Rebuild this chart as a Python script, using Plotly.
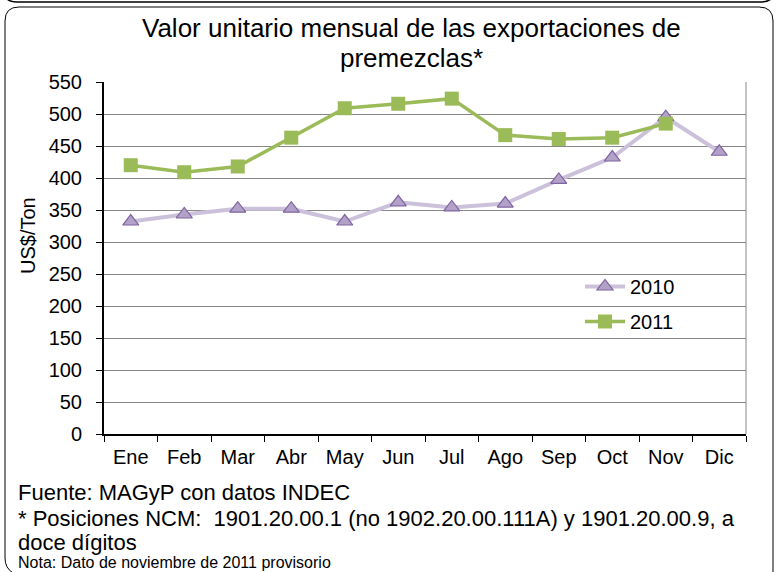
import plotly.graph_objects as go

months = ["Ene", "Feb", "Mar", "Abr", "May", "Jun", "Jul", "Ago", "Sep", "Oct", "Nov", "Dic"]
v2010 = [332, 343, 352, 352, 332, 362, 354, 360, 397, 432, 495, 441]
v2011 = [420, 409, 418, 463, 509, 516, 524, 467, 461, 463, 485, None]
yticks = list(range(0, 551, 50))

W, H = 778, 572
L, R, T, B = 104, 32, 82, 138
pw, ph = W - L - R, H - T - B

def px(x):
    return (x - L) / pw

def py(y):
    return (H - B - y) / ph

FONT = "Liberation Sans, Arial, sans-serif"

fig = go.Figure()
fig.add_trace(go.Scatter(
    x=months, y=v2010, name="2010", mode="lines+markers", legendgroup="a",
    line=dict(color="#CCC1DA", width=4),
    marker=dict(symbol="triangle-up", size=14, color="#B3A2C7",
                line=dict(color="#8064A2", width=1.2)),
))
fig.add_trace(go.Scatter(
    x=months, y=v2011, name="2011", mode="lines+markers", legendgroup="b",
    line=dict(color="#9BBB59", width=3.5),
    marker=dict(symbol="square", size=14, color="#9BBB59",
                line=dict(color="#9BBB59", width=0)),
))

# rounded frame
r = 14
x0, x1, y0, y1 = 5, 773, 7, 572
frame = (f"M {px(x0)},{py(558)} L {px(x0)},{py(y0 + r)} Q {px(x0)},{py(y0)} {px(x0 + r)},{py(y0)} "
         f"L {px(x1 - r)},{py(y0)} Q {px(x1)},{py(y0)} {px(x1)},{py(y0 + r)} L {px(x1)},{py(y1)}")
prev = (f"M {px(3)},{py(-12)} Q {px(3)},{py(2)} {px(17)},{py(2)} L {px(761)},{py(2)} "
        f"Q {px(775)},{py(2)} {px(775)},{py(-12)}")
bl = f"M {px(x0)},{py(558)} Q {px(x0)},{py(568)} {px(x0 + 8)},{py(573)}"
shapes = [
    dict(type="path", xref="paper", yref="paper", path=frame, line=dict(color="#000", width=1)),
    dict(type="path", xref="paper", yref="paper", path=prev, line=dict(color="#000", width=1.5)),
    dict(type="path", xref="paper", yref="paper", path=bl, line=dict(color="#000", width=1)),
    dict(type="line", xref="paper", yref="paper", x0=1, x1=1, y0=0, y1=1,
         line=dict(color="#888", width=1)),
]

fig.update_layout(
    width=W, height=H,
    margin=dict(l=L, r=R, t=T, b=B),
    paper_bgcolor="white", plot_bgcolor="white",
    font=dict(family=FONT, size=20, color="#000"),
    showlegend=True,
    legend=dict(x=px(580), y=py(267), xanchor="left", yanchor="top",
                bgcolor="rgba(0,0,0,0)", font=dict(size=20), tracegroupgap=6,
                traceorder="grouped", itemwidth=40),
    shapes=shapes,
    xaxis=dict(type="category", categoryarray=months, showgrid=False,
               showline=True, linecolor="#000", linewidth=2,
               ticks="outside", tickson="boundaries", ticklen=6, tickcolor="#000",
               ticklabelstandoff=4,
               tickfont=dict(size=20), range=[-0.5, 11.5]),
    yaxis=dict(range=[0, 550], tickvals=yticks, showgrid=True, gridcolor="#888",
               gridwidth=1, showline=True, linecolor="#000", linewidth=2,
               ticks="outside", ticklen=6, tickcolor="#000", zeroline=False,
               ticklabelstandoff=10,
               tickfont=dict(size=20)),
)

titles = [("Valor unitario mensual de las exportaciones de", 28),
          ("premezclas*", 58)]
for txt, yy in titles:
    fig.add_annotation(text=txt, xref="paper", yref="paper", x=px(411), y=py(yy),
                       xanchor="center", yanchor="middle", showarrow=False,
                       font=dict(size=26, family=FONT))

fig.add_annotation(text="US$/Ton", xref="paper", yref="paper", x=px(28), y=py(236),
                   textangle=-90, showarrow=False, xanchor="center", yanchor="middle",
                   font=dict(size=20, family=FONT))

notes = [
    ("Fuente: MAGyP con datos INDEC", 493, 22),
    ("* Posiciones NCM:  1901.20.00.1 (no 1902.20.00.111A) y 1901.20.00.9, a", 518, 22),
    ("doce dígitos", 542, 22),
    ("Nota: Dato de noviembre de 2011 provisorio", 562, 16),
]
for txt, yy, sz in notes:
    fig.add_annotation(text=txt, xref="paper", yref="paper", x=px(16), y=py(yy),
                       xanchor="left", yanchor="middle", showarrow=False,
                       font=dict(size=sz, family=FONT))

fig.write_html("out.html", config={"displayModeBar": False},
               post_script="document.body.style.margin='0';")
